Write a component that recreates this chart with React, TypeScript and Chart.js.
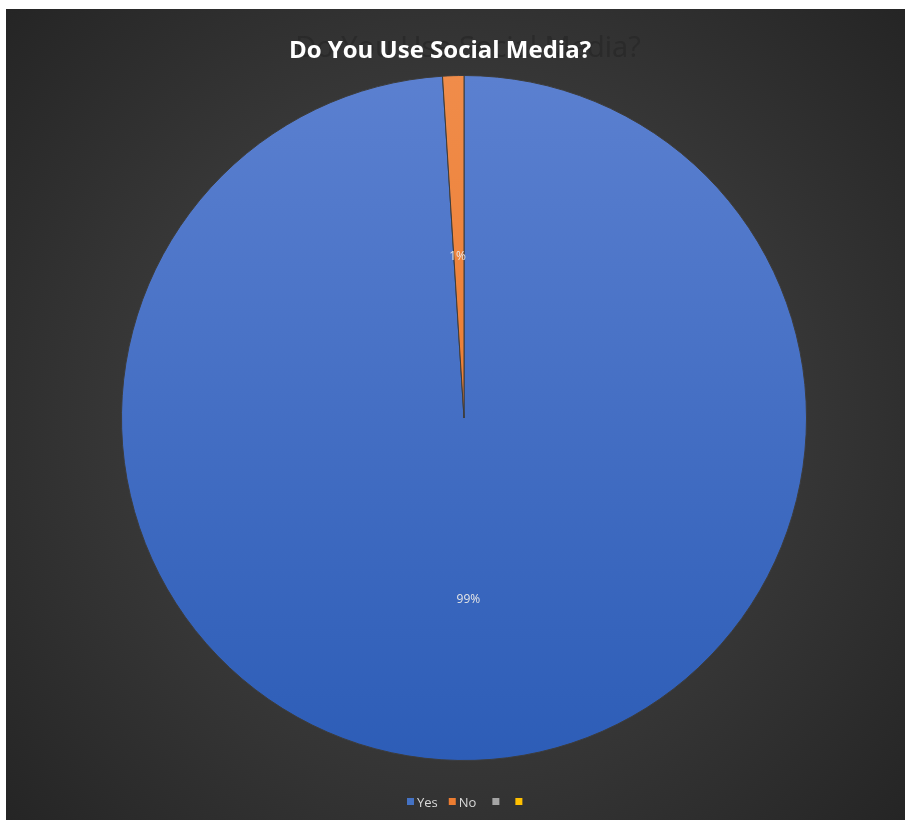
import React, { useEffect, useRef } from "react";
import { Chart, registerables } from "chart.js";

Chart.register(...registerables);

const categories = ["Yes", "No", "", ""];
const values = [99, 1, 0, 0];
const percentLabels = ["99%", "1%", "", ""];
const titleText = "Do You Use Social Media?";

const baseColors = ["#4472C4", "#ED7D31", "#A5A5A5", "#FFC000"];

const W = 899;
const H = 811;

export default function App() {
  const ref = useRef<HTMLCanvasElement | null>(null);

  useEffect(() => {
    if (!ref.current) return;

    const bgPlugin = {
      id: "bg",
      beforeDraw(chart: any) {
        const { ctx, width, height } = chart;
        ctx.save();
        const g = ctx.createRadialGradient(width / 2, height / 2, 40, width / 2, height / 2, Math.max(width, height) * 0.72);
        g.addColorStop(0, "#4a4a4a");
        g.addColorStop(1, "#222222");
        ctx.fillStyle = g;
        ctx.fillRect(0, 0, width, height);
        // ghost title
        ctx.fillStyle = "#2a2a2a";
        ctx.font = "29px 'Open Sans', sans-serif";
        ctx.textAlign = "center";
        ctx.textBaseline = "alphabetic";
        ctx.fillText(titleText, 462, 48);
        ctx.restore();
      },
    };

    const overlayPlugin = {
      id: "overlay",
      afterDatasetsDraw(chart: any) {
        const { ctx } = chart;
        const meta = chart.getDatasetMeta(0);
        ctx.save();
        ctx.fillStyle = "#e6e6e6";
        ctx.font = "12px 'Open Sans', sans-serif";
        ctx.textAlign = "center";
        ctx.textBaseline = "middle";
        meta.data.forEach((arc: any, i: number) => {
          if (!values[i]) return;
          const { x, y, startAngle, endAngle, outerRadius } = arc.getProps(
            ["x", "y", "startAngle", "endAngle", "outerRadius"],
            true
          );
          const mid = (startAngle + endAngle) / 2;
          const r = outerRadius * 0.5;
          ctx.fillText(percentLabels[i], x + Math.cos(mid) * r - 1, y + Math.sin(mid) * r + 10);
        });
        ctx.restore();
      },
      afterDraw(chart: any) {
        const { ctx } = chart;
        ctx.save();
        // title
        ctx.font = "bold 24px 'Open Sans', sans-serif";
        ctx.textAlign = "center";
        ctx.textBaseline = "alphabetic";
        ctx.fillStyle = "#ffffff";
        ctx.fillText(titleText, 434, 49);
        // legend
        ctx.font = "13px 'Open Sans', sans-serif";
        ctx.textBaseline = "middle";
        ctx.textAlign = "left";
        const y = 792;
        let x = 401;
        categories.forEach((c, i) => {
          ctx.fillStyle = baseColors[i];
          ctx.fillRect(x, y - 3, 7, 7);
          x += 10;
          if (c) {
            ctx.fillStyle = "#d9d9d9";
            ctx.fillText(c, x, y + 2);
            x += ctx.measureText(c).width + (i === 0 ? 11 : 16);
          } else {
            x += 13;
          }
        });
        ctx.restore();
      },
    };

    const chart = new Chart(ref.current, {
      type: "pie",
      data: {
        labels: categories,
        datasets: [
          {
            data: values,
            backgroundColor: (ctx: any) => {
              const i = ctx.dataIndex;
              const c = ctx.chart.ctx;
              const g = c.createLinearGradient(0, 67, 0, 751);
              if (i === 0) {
                g.addColorStop(0, "#5b80d0");
                g.addColorStop(1, "#2d5db7");
                return g;
              }
              if (i === 1) {
                g.addColorStop(0, "#f08c4a");
                g.addColorStop(1, "#e8701c");
                return g;
              }
              return baseColors[i];
            },
            borderColor: "#3c3c3c",
            borderWidth: 1,
          },
        ],
      },
      options: {
        responsive: false,
        animation: false,
        rotation: 0,
        layout: { padding: { left: 17, right: 0, top: 66, bottom: 59 } },
        plugins: {
          legend: { display: false },
          title: { display: false },
          tooltip: { enabled: false },
        },
      },
      plugins: [bgPlugin, overlayPlugin],
    });

    return () => chart.destroy();
  }, []);

  return (
    <div style={{ position: "absolute", left: 0, top: 0, width: 905, height: 820, background: "#ffffff" }}>
      <canvas
        ref={ref}
        width={W}
        height={H}
        style={{ position: "absolute", left: 6, top: 9, width: W, height: H }}
      />
    </div>
  );
}
